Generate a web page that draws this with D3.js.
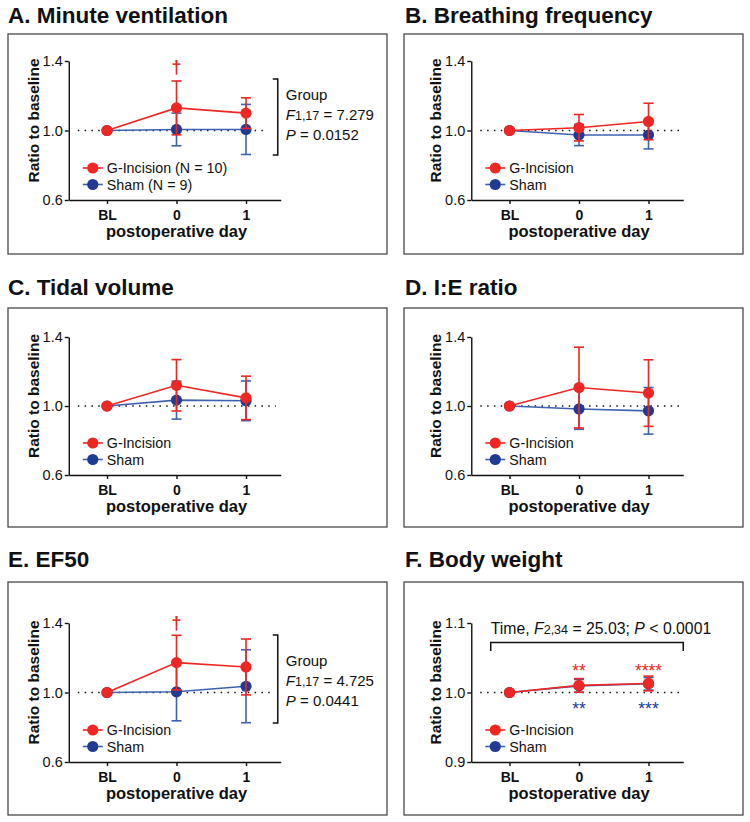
<!DOCTYPE html>
<html><head><meta charset="utf-8">
<script src="https://cdn.jsdelivr.net/npm/d3@7"></script>
<style>
body{margin:0;background:#fff}
svg{display:block}
text{font-family:"Liberation Sans",Arial,Helvetica,sans-serif;fill:#111}
</style>
</head><body>
<svg id="c" width="750" height="822"></svg>
<script>
// ---------- data ----------
const days = ["BL", "0", "1"];
const groupNames = ["G-Incision", "Sham"];
const legendLabelsA = ["G-Incision (N = 10)", "Sham (N = 9)"];
const panelTitles = ["A. Minute ventilation", "B. Breathing frequency", "C. Tidal volume", "D. I:E ratio", "E. EF50", "F. Body weight"];
const yTicksRatio = [0.6, 1.0, 1.4];
const yTicksWeight = [0.9, 1.0, 1.1];

// A. Minute ventilation
const mvIncMean = [1.000, 1.130, 1.100], mvIncErr = [0, 0.155, 0.088];
const mvShamMean = [1.000, 1.006, 1.006], mvShamErr = [0, 0.094, 0.144];
// B. Breathing frequency
const bfIncMean = [1.000, 1.016, 1.052], bfIncErr = [0, 0.076, 0.105];
const bfShamMean = [1.000, 0.974, 0.974], bfShamErr = [0, 0.061, 0.080];
// C. Tidal volume
const tvIncMean = [1.000, 1.120, 1.047], tvIncErr = [0, 0.149, 0.126];
const tvShamMean = [1.000, 1.034, 1.030], tvShamErr = [0, 0.110, 0.115];
// D. I:E ratio
const ieIncMean = [1.000, 1.107, 1.075], ieIncErr = [0, 0.234, 0.193];
const ieShamMean = [1.000, 0.983, 0.972], ieShamErr = [0, 0.118, 0.135];
// E. EF50
const efIncMean = [1.000, 1.172, 1.147], efIncErr = [0, 0.157, 0.161];
const efShamMean = [1.000, 1.004, 1.036], efShamErr = [0, 0.167, 0.210];
// F. Body weight
const bwIncMean = [1.000, 1.0102, 1.0130], bwIncErr = [0, 0.0098, 0.0106];
const bwShamMean = [1.000, 1.0095, 1.0125], bwShamErr = [0, 0.0092, 0.0090];

// statistics text segments: [text, style] with style n = normal, i = italic, s = small
const statsA = [[["Group", "n"]], [["F", "i"], ["1,17", "s"], [" = 7.279", "n"]], [["P", "i"], [" = 0.0152", "n"]]];
const statsE = [[["Group", "n"]], [["F", "i"], ["1,17", "s"], [" = 4.725", "n"]], [["P", "i"], [" = 0.0441", "n"]]];
const statsF = [["Time, ", "n"], ["F", "i"], ["2,34", "s"], [" = 25.03; ", "n"], ["P", "i"], [" < 0.0001", "n"]];
const starsIncF = ["", "**", "****"];
const starsShamF = ["", "**", "***"];

// ---------- layout ----------
const RED = "#ee2624", BLUE_M = "#203c92", BLUE_L = "#3f62b0";
const STEP = 69.5;
const cols = [
  {boxX: 8, boxW: 379, titleX: 8, x0: 107},
  {boxX: 404, boxW: 339, titleX: 405, x0: 509.5}
];
const rows = [
  {titleY: 23, boxY: 34, boxH: 220, yTop: 61, yBot: 200},
  {titleY: 295, boxY: 308, boxH: 219, yTop: 337, yBot: 475},
  {titleY: 567, boxY: 582, boxH: 233, yTop: 623, yBot: 762}
];

const panels = [
  {inc: [mvIncMean, mvIncErr], sham: [mvShamMean, mvShamErr], ticks: yTicksRatio, legend: legendLabelsA, dotEnd: 2.28, dagger: 73, stats: statsA, br: [79, 155], statY: [100, 120, 140]},
  {inc: [bfIncMean, bfIncErr], sham: [bfShamMean, bfShamErr], ticks: yTicksRatio, legend: groupNames, dotEnd: 2.46},
  {inc: [tvIncMean, tvIncErr], sham: [tvShamMean, tvShamErr], ticks: yTicksRatio, legend: groupNames, dotEnd: 2.43},
  {inc: [ieIncMean, ieIncErr], sham: [ieShamMean, ieShamErr], ticks: yTicksRatio, legend: groupNames, dotEnd: 2.46},
  {inc: [efIncMean, efIncErr], sham: [efShamMean, efShamErr], ticks: yTicksRatio, legend: groupNames, dotEnd: 2.37, dagger: 629, stats: statsE, br: [635, 723], statY: [666, 686, 706]},
  {inc: [bwIncMean, bwIncErr], sham: [bwShamMean, bwShamErr], ticks: yTicksWeight, legend: groupNames, dotEnd: 2.46, weight: true}
];

const svg = d3.select("#c");

function richText(t, segs) {
  segs.forEach(([txt, st]) => {
    const ts = t.append("tspan").text(txt);
    if (st === "i") ts.attr("font-style", "italic");
    if (st === "s") ts.attr("font-size", 12.5);
  });
}

panels.forEach((p, i) => {
  const col = cols[i % 2], row = rows[Math.floor(i / 2)];
  const g = svg.append("g");
  // title
  g.append("text").attr("x", col.titleX).attr("y", row.titleY)
    .attr("font-size", 22.5).attr("font-weight", "bold").text(panelTitles[i]);
  // box
  g.append("rect").attr("x", col.boxX).attr("y", row.boxY).attr("width", col.boxW).attr("height", row.boxH)
    .attr("fill", "none").attr("stroke", "#4a4a4a").attr("stroke-width", 1.3);

  const x = d3.scaleLinear().domain([-0.55, 2.5]).range([col.x0 - 0.55 * STEP, col.x0 + 2.5 * STEP]);
  const y = d3.scaleLinear().domain(d3.extent(p.ticks)).range([row.yBot, row.yTop]);
  const ax = x(-0.55);

  // dotted reference line
  g.append("line").attr("x1", x(-0.42)).attr("x2", x(p.dotEnd)).attr("y1", y(1)).attr("y2", y(1))
    .attr("stroke", "#111").attr("stroke-width", 1.5).attr("stroke-dasharray", "1.5,5.3");

  // axes
  const yA = g.append("g").attr("transform", `translate(${ax},0)`)
    .call(d3.axisLeft(y).tickValues(p.ticks).tickFormat(d3.format(".1f")).tickSize(4).tickSizeOuter(0).tickPadding(2));
  yA.selectAll("text").attr("font-size", 14.5).style("font-family", "Liberation Sans, Arial, sans-serif").attr("fill", "#111");
  const xA = g.append("g").attr("transform", `translate(0,${row.yBot})`)
    .call(d3.axisBottom(x).tickValues([0, 1, 2]).tickFormat(d => days[d]).tickSize(4).tickSizeOuter(0).tickPadding(6));
  xA.selectAll("text").attr("font-size", 14).attr("font-weight", "bold").style("font-family", "Liberation Sans, Arial, sans-serif").attr("fill", "#111");
  [yA, xA].forEach(a => { a.selectAll("path,line").attr("stroke", "#111").attr("stroke-width", 1.4); });

  // axis titles
  g.append("text").attr("x", x(1)).attr("y", row.yBot + 37).attr("text-anchor", "middle")
    .attr("font-size", 16.5).attr("font-weight", "bold").text("postoperative day");
  const ymid = (row.yTop + row.yBot) / 2 - 10;
  g.append("text").attr("transform", `translate(${ax - 30},${ymid}) rotate(-90)`).attr("text-anchor", "middle")
    .attr("font-size", 15.5).attr("font-weight", "bold").text("Ratio to baseline");

  // series: sham first, G-Incision on top
  const series = [
    {m: p.sham[0], e: p.sham[1], line: BLUE_L, mark: BLUE_M},
    {m: p.inc[0], e: p.inc[1], line: RED, mark: RED}
  ];
  series.forEach(s => {
    const pts = s.m.map((v, k) => ({k, v, e: s.e[k]}));
    const sg = g.append("g");
    sg.append("path").datum(pts).attr("fill", "none").attr("stroke", s.line).attr("stroke-width", 1.6)
      .attr("d", d3.line().x(d => x(d.k)).y(d => y(d.v)));
    const eb = sg.selectAll(".eb").data(pts.filter(d => d.e > 0)).enter().append("g");
    eb.append("line").attr("x1", d => x(d.k)).attr("x2", d => x(d.k))
      .attr("y1", d => y(d.v - d.e)).attr("y2", d => y(d.v + d.e)).attr("stroke", s.line).attr("stroke-width", 1.6);
    [-1, 1].forEach(sgn => {
      eb.append("line").attr("x1", d => x(d.k) - 5).attr("x2", d => x(d.k) + 5)
        .attr("y1", d => y(d.v + sgn * d.e)).attr("y2", d => y(d.v + sgn * d.e))
        .attr("stroke", s.line).attr("stroke-width", 1.6);
    });
    sg.selectAll("circle").data(pts).enter().append("circle")
      .attr("cx", d => x(d.k)).attr("cy", d => y(d.v)).attr("r", 5.6).attr("fill", s.mark);
  });

  // legend
  const legColors = [[RED, RED], [BLUE_L, BLUE_M]];
  p.legend.forEach((lab, k) => {
    const ly = row.yBot - 32 + k * 16.5;
    g.append("line").attr("x1", ax + 14).attr("x2", ax + 34).attr("y1", ly).attr("y2", ly)
      .attr("stroke", legColors[k][0]).attr("stroke-width", 1.6);
    g.append("circle").attr("cx", ax + 24).attr("cy", ly).attr("r", 5.6).attr("fill", legColors[k][1]);
    g.append("text").attr("x", ax + 38).attr("y", ly).attr("dy", "0.36em").attr("font-size", 14.3).text(lab);
  });

  // dagger
  if (p.dagger) {
    g.append("text").attr("x", x(1)).attr("y", p.dagger).attr("text-anchor", "middle")
      .attr("font-size", 18).attr("font-weight", "bold").style("fill", RED).text("\u2020");
  }
  // group statistics bracket
  if (p.stats) {
    const bx = ax + 209;
    g.append("path").attr("d", `M${bx - 5},${p.br[0]}H${bx}V${p.br[1]}H${bx - 5}`)
      .attr("fill", "none").attr("stroke", "#111").attr("stroke-width", 1.5);
    p.stats.forEach((segs, k) => {
      const t = g.append("text").attr("x", bx + 8).attr("y", p.statY[k]).attr("font-size", 15);
      richText(t, segs);
    });
  }
  // body weight annotations
  if (p.weight) {
    const bx0 = x(-0.27), bx1 = x(2.5);
    const t = g.append("text").attr("x", bx0).attr("y", row.yTop + 11).attr("font-size", 15.8);
    richText(t, statsF);
    g.append("path").attr("d", `M${bx0},${row.yTop + 28}V${row.yTop + 19.5}H${bx1}V${row.yTop + 28}`)
      .attr("fill", "none").attr("stroke", "#111").attr("stroke-width", 1.5);
    [[starsIncF, RED, row.yTop + 53.5], [starsShamF, BLUE_M, row.yTop + 92]].forEach(([arr, c, yy]) => {
      arr.forEach((s, k) => {
        if (!s) return;
        g.append("text").attr("x", x(k)).attr("y", yy).attr("text-anchor", "middle")
          .attr("font-size", 17.5).style("fill", c).text(s);
      });
    });
  }
});
</script>
</body></html>
